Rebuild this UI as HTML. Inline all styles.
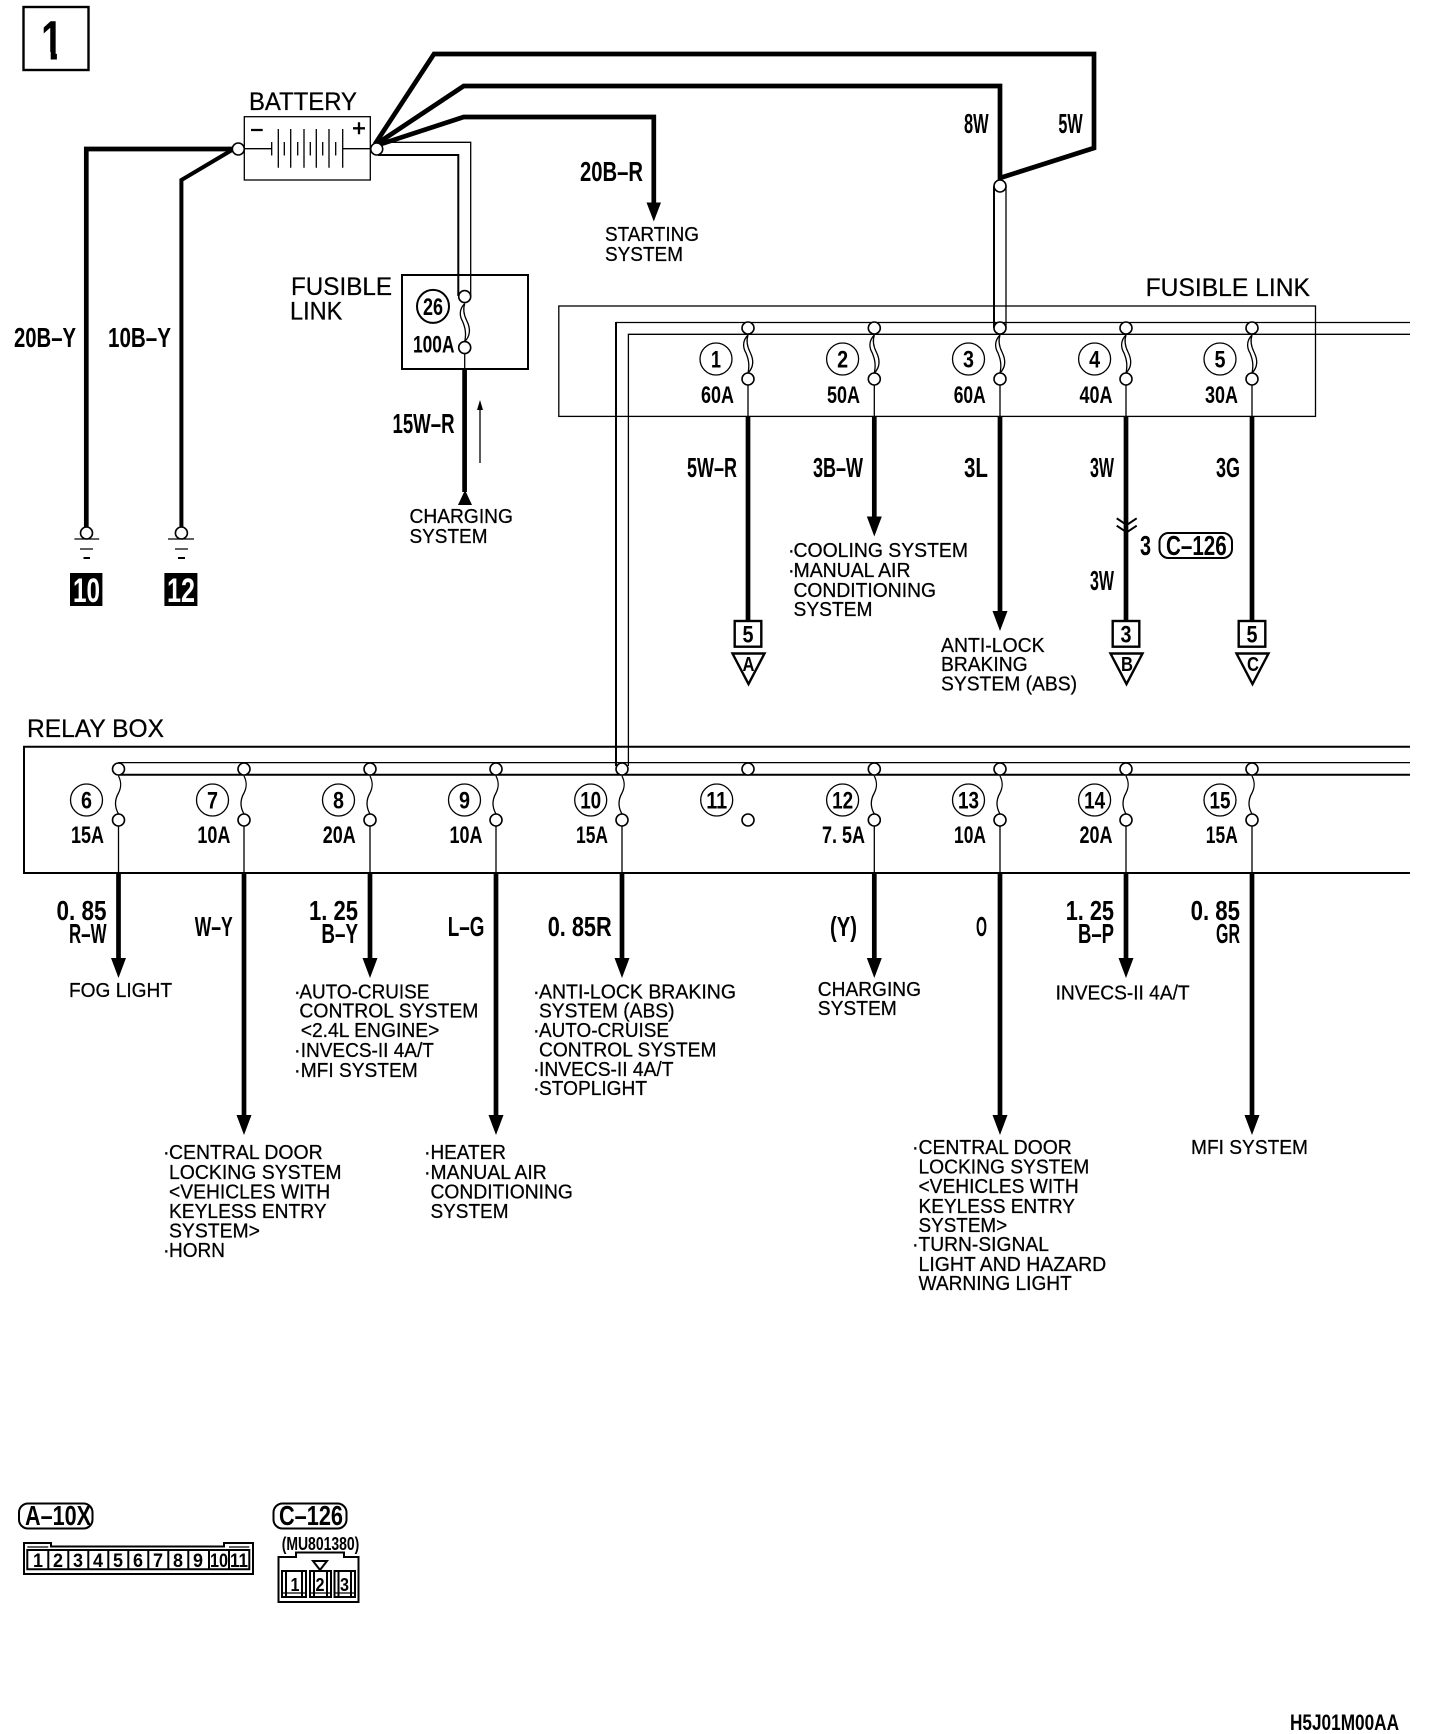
<!DOCTYPE html>
<html>
<head>
<meta charset="utf-8">
<title>Wiring diagram</title>
<style>
html,body{margin:0;padding:0;background:#fff;width:1440px;height:1734px;overflow:hidden}
svg{display:block}
text{fill:#000;font-family:"Liberation Sans",sans-serif}
.n{font-size:20px;stroke:#000;stroke-width:.25}
.l{font-size:25px;stroke:#000;stroke-width:.25}
.b{font-weight:bold;font-size:28px}
.a{font-weight:bold;font-size:24px}
.c{font-weight:bold;font-size:24px;text-anchor:middle}
.s{font-weight:bold;font-size:20px;text-anchor:middle}
.w{fill:#fff;font-weight:bold;font-size:34px}
.th{fill:none;stroke:#000;stroke-width:4.7}
.m{fill:none;stroke:#000;stroke-width:2}
.k{fill:none;stroke:#000;stroke-width:2.4}
.t{fill:none;stroke:#000;stroke-width:1.3}
.o{fill:#fff;stroke:#000;stroke-width:1.6}
.f{fill:none;stroke:#000;stroke-width:1.3}
</style>
</head>
<body>
<svg xmlns="http://www.w3.org/2000/svg" width="1440" height="1734" viewBox="0 0 1440 1734">
<defs>
<g id="lens"><path class="f" d="M0,7C-6,13 -5,20 -2,25C0,30 2,36 0,45"/><path class="f" d="M0,7C-2,13 -1,18 2,24C5,30 7,38 0,45"/><circle class="o" cx="0" cy="0" r="6"/><circle class="o" cx="0" cy="51" r="6"/></g>
<g id="sq"><path class="f" d="M0,7C3,13 3,18 0,24C-4,31 -4,38 0,45"/><circle class="o" cx="0" cy="0" r="6"/><circle class="o" cx="0" cy="51" r="6"/></g>
<path id="dn" d="M-7.5,0H7.5L0,20Z"/>
</defs>

<!-- title box -->
<rect class="k" x="23.5" y="7" width="65" height="63"/>
<text x="41" y="59.3" font-size="56" font-weight="bold" textLength="22" lengthAdjust="spacingAndGlyphs">1</text>
<rect x="38" y="52" width="12.7" height="8.5" fill="#fff"/>
<rect x="56.9" y="52" width="13" height="8.5" fill="#fff"/>

<!-- battery -->
<text class="l" x="249" y="110" textLength="108" lengthAdjust="spacingAndGlyphs">BATTERY</text>
<path class="th" d="M232,149H86.3V528"/>
<path fill="none" stroke="#000" stroke-width="4" d="M232,150L181.4,180V528"/>
<path class="th" d="M375,144L434,54H1094V148L1000,178"/>
<path class="th" d="M375,145L463.7,86H1000V180"/>
<path class="th" d="M375,146L463.7,117H653.8V204"/>
<path d="M646.5,202.5H661L653.8,221.5Z"/>
<rect class="t" x="244.3" y="116.7" width="126" height="63.3"/>
<path class="t" d="M238,148.7H271.7M342.7,148.7H377"/>
<path class="t" d="M271.7,142V155.5M278.3,129V167.7M284.3,142V155.5M290.7,129V167.7M297.7,142V155.5M304,129V167.7M310.3,142V155.5M316.3,129V167.7M322.7,142V155.5M329,129V167.7M335.7,142V155.5M342.7,129V167.7"/>
<path fill="none" stroke="#000" stroke-width="2.3" d="M251,130H262.7M353,128.3H365M359,122.3V134.3"/>
<circle class="o" cx="238.3" cy="149" r="6"/>
<path class="t" d="M378,142.3H470.7V296"/>
<path class="m" d="M378,155H458.3V296"/>
<circle class="o" cx="376.7" cy="149" r="6"/>
<text class="b" x="14" y="347" textLength="62" lengthAdjust="spacingAndGlyphs">20B–Y</text>
<text class="b" x="108" y="347" textLength="63" lengthAdjust="spacingAndGlyphs">10B–Y</text>
<text class="b" x="580" y="181" textLength="63" lengthAdjust="spacingAndGlyphs">20B–R</text>
<text class="n" x="605" y="241" textLength="94" lengthAdjust="spacingAndGlyphs">STARTING</text>
<text class="n" x="605" y="261" textLength="78" lengthAdjust="spacingAndGlyphs">SYSTEM</text>

<!-- ground -->
<circle class="o" cx="86.5" cy="533" r="6"/>
<path class="t" d="M74.4,539H99.2M80,549H93"/><path class="m" d="M83.5,558H90"/>
<circle class="o" cx="181.4" cy="533" r="6"/>
<path class="t" d="M168,539H194M175,549H188"/><path class="m" d="M178,558H185"/>
<rect x="70" y="573" width="32.4" height="33"/>
<rect x="164.4" y="573" width="33" height="33"/>
<text class="w" x="73" y="602" textLength="27" lengthAdjust="spacingAndGlyphs">10</text>
<text class="w" x="167" y="602" textLength="28" lengthAdjust="spacingAndGlyphs">12</text>

<!-- fusible link 26 -->
<rect class="m" x="402" y="275" width="126" height="94"/>
<text class="l" x="291" y="295" textLength="101" lengthAdjust="spacingAndGlyphs">FUSIBLE</text>
<text class="l" x="290" y="319.5" textLength="52.4" lengthAdjust="spacingAndGlyphs">LINK</text>
<path class="t" d="M464.7,347V369"/>
<use href="#lens" x="464.7" y="296.6"/>
<ellipse class="m" cx="433" cy="306.4" rx="16" ry="16.5"/>
<text class="c" x="433" y="315" textLength="20" lengthAdjust="spacingAndGlyphs">26</text>
<text class="a" x="413" y="352.7" textLength="41.5" lengthAdjust="spacingAndGlyphs">100A</text>
<path class="th" d="M464.6,369V492"/>
<path d="M458,505H472L465,490Z"/>
<path class="t" d="M480,406V463"/><path d="M477,410L480,400L483,410Z"/>
<text class="b" x="392.5" y="433" textLength="62" lengthAdjust="spacingAndGlyphs">15W–R</text>
<text class="n" x="409.5" y="523" textLength="103.5" lengthAdjust="spacingAndGlyphs">CHARGING</text>
<text class="n" x="409.5" y="543" textLength="78" lengthAdjust="spacingAndGlyphs">SYSTEM</text>

<!-- fusible link main -->
<text class="b" x="964" y="133" textLength="24.6" lengthAdjust="spacingAndGlyphs">8W</text>
<text class="b" x="1058.4" y="133" textLength="24.3" lengthAdjust="spacingAndGlyphs">5W</text>
<rect class="t" x="558.8" y="306" width="756.7" height="110.4"/>
<path class="t" d="M628.4,766V334.3H1410"/>
<path class="t" d="M616,322.5H1410"/>
<path class="m" d="M616,322V766"/>
<text class="l" x="1145.6" y="296" textLength="164.4" lengthAdjust="spacingAndGlyphs">FUSIBLE LINK</text>
<path class="m" d="M994,186V328"/><path class="t" d="M1006,186V328"/>
<circle class="o" cx="1000" cy="186" r="6"/>
<path class="t" d="M748,379V417M874.3,379V417M1000,379V417M1126,379V417M1252,379V417"/>
<use href="#lens" x="748" y="328"/>
<use href="#lens" x="874.3" y="328"/>
<use href="#lens" x="1000" y="328"/>
<use href="#lens" x="1126" y="328"/>
<use href="#lens" x="1252" y="328"/>
<g><circle class="t" cx="716" cy="359" r="16"/><circle class="t" cx="842.6" cy="359" r="16"/><circle class="t" cx="968.5" cy="359" r="16"/><circle class="t" cx="1094.6" cy="359" r="16"/><circle class="t" cx="1220" cy="359" r="16"/></g>
<text class="c" x="716" y="367.5" textLength="10" lengthAdjust="spacingAndGlyphs">1</text>
<text class="c" x="842.6" y="367.5" textLength="11" lengthAdjust="spacingAndGlyphs">2</text>
<text class="c" x="968.5" y="367.5" textLength="11" lengthAdjust="spacingAndGlyphs">3</text>
<text class="c" x="1094.6" y="367.5" textLength="11" lengthAdjust="spacingAndGlyphs">4</text>
<text class="c" x="1220" y="367.5" textLength="11" lengthAdjust="spacingAndGlyphs">5</text>
<text class="a" x="701" y="403" textLength="33" lengthAdjust="spacingAndGlyphs">60A</text>
<text class="a" x="827" y="403" textLength="33" lengthAdjust="spacingAndGlyphs">50A</text>
<text class="a" x="953.7" y="403" textLength="32" lengthAdjust="spacingAndGlyphs">60A</text>
<text class="a" x="1079.5" y="403" textLength="33" lengthAdjust="spacingAndGlyphs">40A</text>
<text class="a" x="1205" y="403" textLength="33" lengthAdjust="spacingAndGlyphs">30A</text>
<path class="th" d="M748,416.4V621M874.3,416.4V518M1000,416.4V613M1126,416.4V621M1252,416.4V621"/>
<use href="#dn" x="874.3" y="516.5"/>
<use href="#dn" x="1000" y="611"/>
<text class="b" x="687" y="477" textLength="50" lengthAdjust="spacingAndGlyphs">5W–R</text>
<text class="b" x="813" y="477" textLength="50" lengthAdjust="spacingAndGlyphs">3B–W</text>
<text class="b" x="964" y="477" textLength="24" lengthAdjust="spacingAndGlyphs">3L</text>
<text class="b" x="1090" y="477" textLength="24" lengthAdjust="spacingAndGlyphs">3W</text>
<text class="b" x="1216" y="477" textLength="24" lengthAdjust="spacingAndGlyphs">3G</text>
<text class="b" x="1090" y="590" textLength="24" lengthAdjust="spacingAndGlyphs">3W</text>
<path class="m" d="M1116.7,518.3L1126.7,525L1136.7,518.3M1116.7,525.7L1126.7,532.3L1136.7,525.7"/>
<text class="b" x="1140" y="555" font-size="27" textLength="11" lengthAdjust="spacingAndGlyphs">3</text>
<rect class="m" x="1159.5" y="533" width="72.5" height="25" rx="9"/>
<text class="b" x="1166" y="555" textLength="60.7" lengthAdjust="spacingAndGlyphs">C–126</text>

<!-- destination markers -->
<rect class="k" x="734.7" y="621" width="26.6" height="25.7"/>
<rect class="k" x="1112.7" y="621" width="26.6" height="25.7"/>
<rect class="k" x="1238.7" y="621" width="26.6" height="25.7"/>
<text class="c" x="748" y="642.7" textLength="11" lengthAdjust="spacingAndGlyphs">5</text>
<text class="c" x="1126" y="642.7" textLength="11" lengthAdjust="spacingAndGlyphs">3</text>
<text class="c" x="1252" y="642.7" textLength="11" lengthAdjust="spacingAndGlyphs">5</text>
<path class="k" d="M732.5,653.5H764.5L748.5,684ZM1110.5,653.5H1142.5L1126.5,684ZM1236.5,653.5H1268.5L1252.5,684Z"/>
<text class="s" x="748.5" y="671" textLength="12" lengthAdjust="spacingAndGlyphs">A</text>
<text class="s" x="1127" y="671" textLength="12" lengthAdjust="spacingAndGlyphs">B</text>
<text class="s" x="1253" y="671" textLength="12" lengthAdjust="spacingAndGlyphs">C</text>

<!-- connector list texts -->
<text class="n" x="788" y="557">·</text>
<text class="n" x="793.5" y="557" textLength="174.5" lengthAdjust="spacingAndGlyphs">COOLING SYSTEM</text>
<text class="n" x="788" y="577">·</text>
<text class="n" x="793.5" y="577" textLength="117" lengthAdjust="spacingAndGlyphs">MANUAL AIR</text>
<text class="n" x="793.5" y="597" textLength="142.5" lengthAdjust="spacingAndGlyphs">CONDITIONING</text>
<text class="n" x="793.5" y="616" textLength="79" lengthAdjust="spacingAndGlyphs">SYSTEM</text>
<text class="n" x="941" y="652" textLength="103.6" lengthAdjust="spacingAndGlyphs">ANTI-LOCK</text>
<text class="n" x="941" y="671" textLength="86.6" lengthAdjust="spacingAndGlyphs">BRAKING</text>
<text class="n" x="941" y="690.5" textLength="136" lengthAdjust="spacingAndGlyphs">SYSTEM (ABS)</text>

<!-- relay box -->
<text class="l" x="27" y="737" textLength="137" lengthAdjust="spacingAndGlyphs">RELAY BOX</text>
<path class="m" d="M1410,746.7H24V873H1410"/>
<path class="t" d="M118,762.6H1410"/>
<path class="m" d="M118,774.8H1410"/>
<path class="t" d="M118.5,820V873M244,820V873M370,820V873M496,820V873M622,820V873M874.3,820V873M1000,820V873M1126,820V873M1252,820V873"/>
<use href="#sq" x="118.5" y="769"/>
<use href="#sq" x="244" y="769"/>
<use href="#sq" x="370" y="769"/>
<use href="#sq" x="496" y="769"/>
<use href="#sq" x="622" y="769"/>
<circle class="o" cx="748" cy="769" r="6"/>
<circle class="o" cx="748" cy="820" r="6"/>
<use href="#sq" x="874.3" y="769"/>
<use href="#sq" x="1000" y="769"/>
<use href="#sq" x="1126" y="769"/>
<use href="#sq" x="1252" y="769"/>
<g><circle class="t" cx="86.5" cy="800" r="16"/><circle class="t" cx="212.5" cy="800" r="16"/><circle class="t" cx="338.5" cy="800" r="16"/><circle class="t" cx="464.5" cy="800" r="16"/><circle class="t" cx="590.7" cy="800" r="16"/><circle class="t" cx="716.7" cy="800" r="16"/><circle class="t" cx="842.6" cy="800" r="16"/><circle class="t" cx="968.5" cy="800" r="16"/><circle class="t" cx="1094.6" cy="800" r="16"/><circle class="t" cx="1220" cy="800" r="16"/></g>
<text class="c" x="86.5" y="808.5" textLength="11" lengthAdjust="spacingAndGlyphs">6</text>
<text class="c" x="212.5" y="808.5" textLength="11" lengthAdjust="spacingAndGlyphs">7</text>
<text class="c" x="338.5" y="808.5" textLength="11" lengthAdjust="spacingAndGlyphs">8</text>
<text class="c" x="464.5" y="808.5" textLength="11" lengthAdjust="spacingAndGlyphs">9</text>
<text class="c" x="590.7" y="808.5" textLength="21" lengthAdjust="spacingAndGlyphs">10</text>
<text class="c" x="716.7" y="808.5" textLength="21" lengthAdjust="spacingAndGlyphs">11</text>
<text class="c" x="842.6" y="808.5" textLength="21" lengthAdjust="spacingAndGlyphs">12</text>
<text class="c" x="968.5" y="808.5" textLength="21" lengthAdjust="spacingAndGlyphs">13</text>
<text class="c" x="1094.6" y="808.5" textLength="21" lengthAdjust="spacingAndGlyphs">14</text>
<text class="c" x="1220" y="808.5" textLength="21" lengthAdjust="spacingAndGlyphs">15</text>
<text class="a" x="71" y="843" textLength="33" lengthAdjust="spacingAndGlyphs">15A</text>
<text class="a" x="197.4" y="843" textLength="33" lengthAdjust="spacingAndGlyphs">10A</text>
<text class="a" x="322.8" y="843" textLength="33" lengthAdjust="spacingAndGlyphs">20A</text>
<text class="a" x="449.5" y="843" textLength="33" lengthAdjust="spacingAndGlyphs">10A</text>
<text class="a" x="576" y="843" textLength="32" lengthAdjust="spacingAndGlyphs">15A</text>
<text class="a" x="822" y="843" textLength="43" lengthAdjust="spacingAndGlyphs">7. 5A</text>
<text class="a" x="954" y="843" textLength="32" lengthAdjust="spacingAndGlyphs">10A</text>
<text class="a" x="1079.5" y="843" textLength="33" lengthAdjust="spacingAndGlyphs">20A</text>
<text class="a" x="1205.8" y="843" textLength="32" lengthAdjust="spacingAndGlyphs">15A</text>

<path class="th" d="M118.5,873V960M244,873V1117M370,873V960M496,873V1117M622,873V960M874.3,873V960M1000,873V1117M1126,873V960M1252,873V1117"/>
<use href="#dn" x="118.5" y="958"/>
<use href="#dn" x="244" y="1115"/>
<use href="#dn" x="370" y="958"/>
<use href="#dn" x="496" y="1115"/>
<use href="#dn" x="622" y="958"/>
<use href="#dn" x="874.3" y="958"/>
<use href="#dn" x="1000" y="1115"/>
<use href="#dn" x="1126" y="958"/>
<use href="#dn" x="1252" y="1115"/>

<text class="b" x="56.5" y="920" textLength="50" lengthAdjust="spacingAndGlyphs">0. 85</text>
<text class="b" x="69" y="943" textLength="37.5" lengthAdjust="spacingAndGlyphs">R–W</text>
<text class="b" x="194.7" y="936" textLength="38" lengthAdjust="spacingAndGlyphs">W–Y</text>
<text class="b" x="309" y="920" textLength="49" lengthAdjust="spacingAndGlyphs">1. 25</text>
<text class="b" x="321.4" y="943" textLength="36.6" lengthAdjust="spacingAndGlyphs">B–Y</text>
<text class="b" x="447.7" y="936" textLength="36.7" lengthAdjust="spacingAndGlyphs">L–G</text>
<text class="b" x="547.7" y="936" textLength="64" lengthAdjust="spacingAndGlyphs">0. 85R</text>
<text class="b" x="830" y="936" textLength="27" lengthAdjust="spacingAndGlyphs">(Y)</text>
<text class="b" x="976" y="936" textLength="11" lengthAdjust="spacingAndGlyphs">O</text>
<text class="b" x="1065.7" y="920" textLength="48.3" lengthAdjust="spacingAndGlyphs">1. 25</text>
<text class="b" x="1078" y="943" textLength="36" lengthAdjust="spacingAndGlyphs">B–P</text>
<text class="b" x="1190.6" y="920" textLength="49.4" lengthAdjust="spacingAndGlyphs">0. 85</text>
<text class="b" x="1216" y="943" textLength="24" lengthAdjust="spacingAndGlyphs">GR</text>

<text class="n" x="69" y="997" textLength="103" lengthAdjust="spacingAndGlyphs">FOG LIGHT</text>

<text class="n" x="294" y="998.5">·</text>
<text class="n" x="299.4" y="998.5" textLength="130" lengthAdjust="spacingAndGlyphs">AUTO-CRUISE</text>
<text class="n" x="299.4" y="1017.6" textLength="179" lengthAdjust="spacingAndGlyphs">CONTROL SYSTEM</text>
<text class="n" x="300.7" y="1036.8" textLength="138.7" lengthAdjust="spacingAndGlyphs">&lt;2.4L ENGINE&gt;</text>
<text class="n" x="294" y="1057">·</text>
<text class="n" x="300.7" y="1057" textLength="133.2" lengthAdjust="spacingAndGlyphs">INVECS-II 4A/T</text>
<text class="n" x="294" y="1077">·</text>
<text class="n" x="300.7" y="1077" textLength="117" lengthAdjust="spacingAndGlyphs">MFI SYSTEM</text>

<text class="n" x="163" y="1159">·</text>
<text class="n" x="169" y="1159" textLength="153.6" lengthAdjust="spacingAndGlyphs">CENTRAL DOOR</text>
<text class="n" x="169" y="1179" textLength="172.6" lengthAdjust="spacingAndGlyphs">LOCKING SYSTEM</text>
<text class="n" x="169" y="1198.6" textLength="161.2" lengthAdjust="spacingAndGlyphs">&lt;VEHICLES WITH</text>
<text class="n" x="169" y="1218" textLength="157.6" lengthAdjust="spacingAndGlyphs">KEYLESS ENTRY</text>
<text class="n" x="169" y="1237.7" textLength="91" lengthAdjust="spacingAndGlyphs">SYSTEM&gt;</text>
<text class="n" x="163" y="1256.8">·</text>
<text class="n" x="169" y="1256.8" textLength="56" lengthAdjust="spacingAndGlyphs">HORN</text>

<text class="n" x="424" y="1159">·</text>
<text class="n" x="430.5" y="1159" textLength="75.4" lengthAdjust="spacingAndGlyphs">HEATER</text>
<text class="n" x="424" y="1179">·</text>
<text class="n" x="430.5" y="1179" textLength="116.2" lengthAdjust="spacingAndGlyphs">MANUAL AIR</text>
<text class="n" x="430.5" y="1198.6" textLength="142.4" lengthAdjust="spacingAndGlyphs">CONDITIONING</text>
<text class="n" x="430.5" y="1218" textLength="78" lengthAdjust="spacingAndGlyphs">SYSTEM</text>

<text class="n" x="533" y="998.5">·</text>
<text class="n" x="539" y="998.5" textLength="197" lengthAdjust="spacingAndGlyphs">ANTI-LOCK BRAKING</text>
<text class="n" x="539" y="1017.3" textLength="135.5" lengthAdjust="spacingAndGlyphs">SYSTEM (ABS)</text>
<text class="n" x="533" y="1036.8">·</text>
<text class="n" x="539" y="1036.8" textLength="130" lengthAdjust="spacingAndGlyphs">AUTO-CRUISE</text>
<text class="n" x="539" y="1056.7" textLength="177.5" lengthAdjust="spacingAndGlyphs">CONTROL SYSTEM</text>
<text class="n" x="533" y="1076">·</text>
<text class="n" x="539" y="1076" textLength="134.5" lengthAdjust="spacingAndGlyphs">INVECS-II 4A/T</text>
<text class="n" x="533" y="1095">·</text>
<text class="n" x="539" y="1095" textLength="108" lengthAdjust="spacingAndGlyphs">STOPLIGHT</text>

<text class="n" x="817.8" y="995.8" textLength="103.2" lengthAdjust="spacingAndGlyphs">CHARGING</text>
<text class="n" x="817.8" y="1015" textLength="79" lengthAdjust="spacingAndGlyphs">SYSTEM</text>

<text class="n" x="1055.6" y="999.3" textLength="134" lengthAdjust="spacingAndGlyphs">INVECS-II 4A/T</text>

<text class="n" x="912" y="1153.9">·</text>
<text class="n" x="918.5" y="1153.9" textLength="153.3" lengthAdjust="spacingAndGlyphs">CENTRAL DOOR</text>
<text class="n" x="918.5" y="1173.4" textLength="170.7" lengthAdjust="spacingAndGlyphs">LOCKING SYSTEM</text>
<text class="n" x="918.5" y="1193" textLength="160.2" lengthAdjust="spacingAndGlyphs">&lt;VEHICLES WITH</text>
<text class="n" x="918.5" y="1212.8" textLength="156.5" lengthAdjust="spacingAndGlyphs">KEYLESS ENTRY</text>
<text class="n" x="918.5" y="1232" textLength="88.7" lengthAdjust="spacingAndGlyphs">SYSTEM&gt;</text>
<text class="n" x="912" y="1251">·</text>
<text class="n" x="918.5" y="1251" textLength="130.4" lengthAdjust="spacingAndGlyphs">TURN-SIGNAL</text>
<text class="n" x="918.5" y="1271" textLength="187.7" lengthAdjust="spacingAndGlyphs">LIGHT AND HAZARD</text>
<text class="n" x="918.5" y="1290" textLength="153.3" lengthAdjust="spacingAndGlyphs">WARNING LIGHT</text>

<text class="n" x="1191" y="1153.9" textLength="117" lengthAdjust="spacingAndGlyphs">MFI SYSTEM</text>

<!-- connectors -->
<rect class="m" x="19" y="1503.5" width="73.5" height="25" rx="9"/>
<text class="b" x="25" y="1525" textLength="66" lengthAdjust="spacingAndGlyphs">A–10X</text>
<rect class="m" x="273.5" y="1503.5" width="73" height="25" rx="9"/>
<text class="b" x="279" y="1525" textLength="64" lengthAdjust="spacingAndGlyphs">C–126</text>

<path class="m" d="M24,1543H51V1546.5H224V1543H253V1574H24Z"/>
<path class="t" d="M27.3,1547H48.3M229,1547H249.3"/>
<path class="m" d="M27.3,1550H249.3V1569.3H27.3ZM48.3,1550V1569.3M68.3,1550V1569.3M88.3,1550V1569.3M108.3,1550V1569.3M128.3,1550V1569.3M148.3,1550V1569.3M168.3,1550V1569.3M188.3,1550V1569.3M209,1550V1569.3M229,1550V1569.3"/>
<g font-weight="bold" font-size="19" text-anchor="middle">
<text x="38" y="1567" textLength="10" lengthAdjust="spacingAndGlyphs">1</text><text x="58" y="1567" textLength="10" lengthAdjust="spacingAndGlyphs">2</text><text x="78" y="1567" textLength="10" lengthAdjust="spacingAndGlyphs">3</text><text x="98" y="1567" textLength="10" lengthAdjust="spacingAndGlyphs">4</text><text x="118" y="1567" textLength="10" lengthAdjust="spacingAndGlyphs">5</text><text x="138" y="1567" textLength="10" lengthAdjust="spacingAndGlyphs">6</text><text x="158" y="1567" textLength="10" lengthAdjust="spacingAndGlyphs">7</text><text x="178" y="1567" textLength="10" lengthAdjust="spacingAndGlyphs">8</text><text x="198" y="1567" textLength="10" lengthAdjust="spacingAndGlyphs">9</text>
<text x="219" y="1567" textLength="18" lengthAdjust="spacingAndGlyphs">10</text><text x="239" y="1567" textLength="18" lengthAdjust="spacingAndGlyphs">11</text>
</g>

<text x="281.7" y="1550" font-weight="bold" font-size="18" textLength="77.6" lengthAdjust="spacingAndGlyphs">(MU801380)</text>
<path class="m" d="M278.5,1557H296V1552.5H344V1557H358.5V1602H278.5Z"/>
<path class="m" d="M313,1561H327L320,1570Z"/>
<path class="m" d="M282,1571H306V1597H282ZM286,1571V1597M302,1571V1597"/><path class="t" d="M282,1593H306"/>
<path class="m" d="M310,1571H331V1597H310ZM314,1571V1597M327,1571V1597"/><path class="t" d="M310,1593H331"/>
<path class="m" d="M334.5,1571H355V1597H334.5ZM338.5,1571V1597M351,1571V1597"/><path class="t" d="M334.5,1593H355"/>
<g font-weight="bold" font-size="18" text-anchor="middle">
<text x="295" y="1591" textLength="9" lengthAdjust="spacingAndGlyphs">1</text><text x="320" y="1591" textLength="9" lengthAdjust="spacingAndGlyphs">2</text><text x="344.5" y="1591" textLength="9" lengthAdjust="spacingAndGlyphs">3</text>
</g>

<text x="1290" y="1730" font-weight="bold" font-size="22" textLength="109" lengthAdjust="spacingAndGlyphs">H5J01M00AA</text>
</svg>
</body>
</html>
